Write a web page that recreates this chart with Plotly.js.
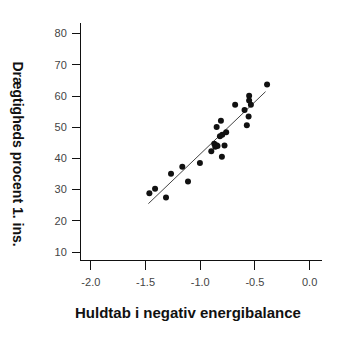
<!DOCTYPE html>
<html>
<head>
<meta charset="utf-8">
<script src="https://cdn.plot.ly/plotly-3.0.1.min.js"></script>
<style>html,body{margin:0;padding:0;background:#fff;}#chart{width:347px;height:337px;}</style>
</head>
<body>
<div id="chart"></div>
<script>
// Scatter points: fat loss in negative energy balance vs pregnancy percent 1st insemination
const pointsX = [-1.465, -1.413, -1.313, -1.267, -1.164, -1.112, -1.003, -0.899, -0.872, -0.863, -0.851, -0.842, -0.850, -0.811, -0.820, -0.799, -0.802, -0.778, -0.763, -0.681, -0.595, -0.574, -0.558, -0.553, -0.553, -0.537, -0.389];
const pointsY = [28.8, 30.3, 27.5, 35.1, 37.3, 32.6, 38.5, 42.3, 44.7, 43.7, 44.2, 44.0, 50.1, 52.1, 47.1, 47.6, 40.5, 44.1, 48.4, 57.2, 55.5, 50.6, 53.4, 60.1, 58.6, 57.2, 63.7];
// Regression line end points
const lineX = [-1.474, -0.403];
const lineY = [25.5, 61.4];
// Ticks
const xTicks = [-2.0, -1.5, -1.0, -0.5, 0.0];
const xTickLabels = ["-2.0", "-1.5", "-1.0", "-0.5", "0.0"];
const yTicks = [10, 20, 30, 40, 50, 60, 70, 80];
const yTickLabels = ["10", "20", "30", "40", "50", "60", "70", "80"];
const xTitle = 'Huldtab i negativ energibalance';
const yTitle = 'Drægtigheds procent 1. ins.';

const data = [
  {x: lineX, y: lineY, type: 'scatter', mode: 'lines', line: {color: '#444', width: 1}, hoverinfo: 'skip'},
  {x: pointsX, y: pointsY, type: 'scatter', mode: 'markers', marker: {color: '#111', size: 6}}
];
const tickFont = {family: 'Liberation Sans, Arial, sans-serif', size: 11, color: '#444'};
const layout = {
  width: 347, height: 337,
  margin: {l: 81, r: 25, t: 23, b: 77},
  showlegend: false,
  paper_bgcolor: '#fff', plot_bgcolor: '#fff',
  xaxis: {
    range: [-2.09, 0.113], tickvals: xTicks, ticktext: xTickLabels,
    showline: true, linecolor: '#111', linewidth: 1, mirror: false,
    ticks: 'outside', ticklen: 9, tickwidth: 1, tickcolor: '#111',
    showgrid: false, zeroline: false, tickfont: tickFont, ticklabelstandoff: 3
  },
  yaxis: {
    range: [7.44, 83.4], tickvals: yTicks, ticktext: yTickLabels,
    showline: true, linecolor: '#111', linewidth: 1, mirror: false,
    ticks: 'outside', ticklen: 8, tickwidth: 1, tickcolor: '#111',
    showgrid: false, zeroline: false, tickfont: tickFont, ticklabelstandoff: 3
  },
  annotations: [
    {text: xTitle, xref: 'paper', yref: 'paper', x: -0.05, y: -0.215, xanchor: 'center', yanchor: 'middle', showarrow: false,
     font: {family: 'Liberation Sans, Arial, sans-serif', size: 15, color: '#111', weight: 'bold'}},
    {text: yTitle, xref: 'paper', yref: 'paper', x: -0.26, y: 0.44, xanchor: 'center', yanchor: 'middle', showarrow: false, textangle: 90,
     font: {family: 'Liberation Sans, Arial, sans-serif', size: 14, color: '#111', weight: 'bold'}}
  ]
};
// place annotations in pixel-accurate positions
const plotW = 347 - 81 - 25, plotH = 337 - 23 - 77;
layout.annotations[0].x = (188 - 81) / plotW;
layout.annotations[0].y = (337 - 77 - 312) / plotH;
layout.annotations[1].x = (17.5 - 81) / plotW;
layout.annotations[1].y = (337 - 77 - 154) / plotH;
Plotly.newPlot('chart', data, layout, {displayModeBar: false, staticPlot: true});
</script>
</body>
</html>
